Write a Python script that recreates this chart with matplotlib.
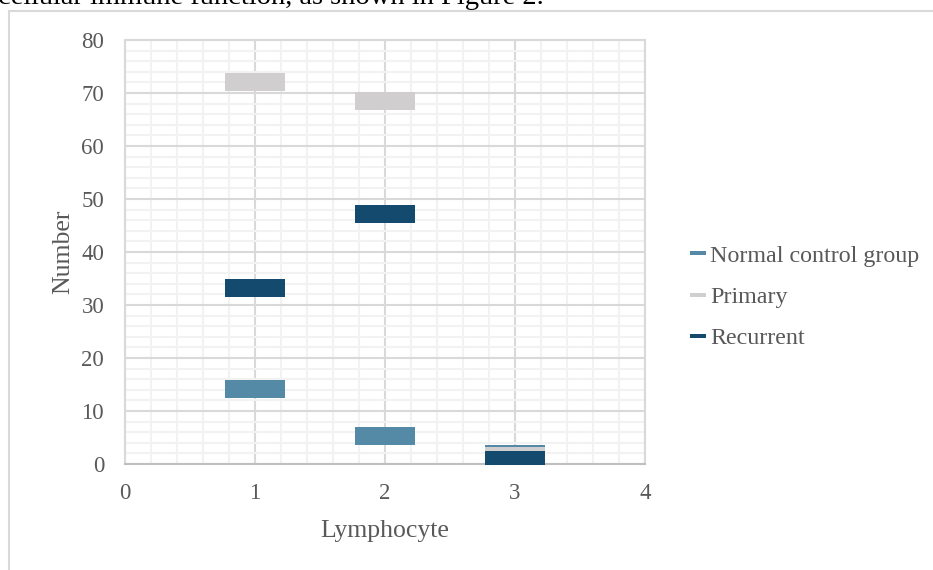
import matplotlib.pyplot as plt
import numpy as np
from matplotlib.lines import Line2D
from matplotlib.patches import Rectangle

# Data
lymphocyte = [1, 2, 3]
normal_control = [14.2, 5.3, 1.8]
primary = [72.0, 68.4, 1.6]
recurrent = [33.2, 47.2, 0.7]

series_names = ['Normal control group', 'Primary', 'Recurrent']
series_colors = ['#548AA5', '#D0CECF', '#134A6E']

W, H = 933, 570
TEXT_GRAY = '#595959'

plt.rcParams['font.family'] = ['Liberation Serif', 'DejaVu Serif']

fig = plt.figure(figsize=(W / 100, H / 100), dpi=100)

# chart area outline (cropped by the screenshot) and leftover paragraph text
fig.patches.append(Rectangle((9 / W, -0.1), 2, (H - 11) / H + 0.1, transform=fig.transFigure,
                             fill=False, edgecolor='#D9D9D9', linewidth=1.5))
fig.text(-2 / W, 1 - 4 / H, 'cellular immune function, as shown in Figure 2.',
         fontsize=20.5, color='black', va='baseline', ha='left')

ax = fig.add_axes([125 / W, (H - 464) / H, 520 / W, 424 / H])

# wide dash markers like Excel
bar_marker = [(-1, -0.3), (1, -0.3), (1, 0.3), (-1, 0.3), (-1, -0.3)]
for vals, name, col in zip([normal_control, primary, recurrent], series_names, series_colors):
    ax.plot(lymphocyte, vals, linestyle='none', marker=bar_marker, markersize=43.2,
            markerfacecolor=col, markeredgewidth=0, color=col, label=name, zorder=3)

ax.set_xlim(0, 4)
ax.set_ylim(0, 80)
ax.set_xticks(np.arange(0, 5, 1))
ax.set_yticks(np.arange(0, 81, 10))
ax.set_xticks(np.arange(0, 4.01, 0.2), minor=True)
ax.set_yticks(np.arange(0, 81, 2), minor=True)
ax.grid(which='minor', color='#F2F2F2', linewidth=1.5, zorder=0)
ax.grid(which='major', color='#D9D9D9', linewidth=1.5, zorder=1)
ax.set_axisbelow(True)
ax.tick_params(which='both', length=0)
ax.tick_params(axis='y', pad=15, labelsize=16.5, labelcolor=TEXT_GRAY)
ax.tick_params(axis='x', pad=14, labelsize=16.5, labelcolor=TEXT_GRAY)
for side in ['top', 'right', 'left']:
    ax.spines[side].set_color('#D9D9D9')
    ax.spines[side].set_linewidth(1.5)
ax.spines['bottom'].set_color('#BFBFBF')
ax.spines['bottom'].set_linewidth(1.5)

ax.set_xlabel('Lymphocyte', fontsize=18.5, color=TEXT_GRAY, labelpad=11)
ax.set_ylabel('Number', fontsize=18.5, color=TEXT_GRAY, labelpad=5)

handles = [Line2D([], [], linestyle='none', marker=[(-1, -0.25), (1, -0.25), (1, 0.25), (-1, 0.25)],
                  markersize=11, markerfacecolor=c, markeredgewidth=0) for c in series_colors]
leg = fig.legend(handles, series_names, loc='center left', bbox_to_anchor=(678 / W, 1 - 297 / H),
                 frameon=False, fontsize=17.3, handlelength=0.7, handletextpad=0.15,
                 labelspacing=0.8, borderpad=0, labelcolor=TEXT_GRAY)

fig.savefig('out.png', dpi=100)
